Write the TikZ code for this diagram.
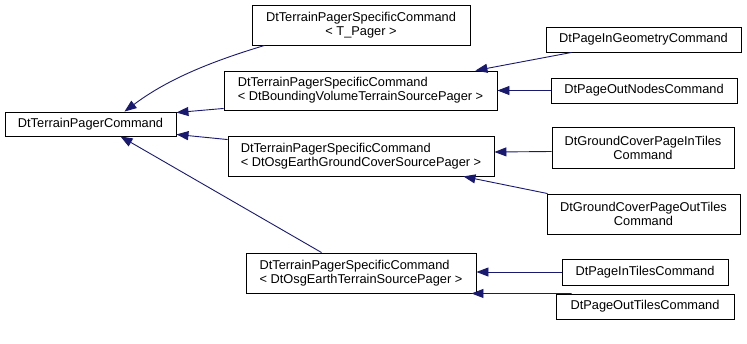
\documentclass[tikz,border=0pt]{standalone}
\usepackage{fontspec}
\setmainfont{Liberation Sans}
\usetikzlibrary{arrows.meta, calc}
\definecolor{darkblue}{RGB}{25, 25, 112}
\tikzset{
    classbox/.style={rectangle, draw=black, line width=0.9pt, fill=white, inner sep=2pt, font=\fontsize{12.8}{14}\selectfont},
    arr/.style={-{Triangle[length=12pt, width=9pt]}, line width=0.9pt, darkblue}
}

\begin{document}
\begin{tikzpicture}[x=1pt, y=-1pt]
    \useasboundingbox (0,0) rectangle (747,343);
    \node[classbox, minimum width=171pt, minimum height=24pt] (root) at (90.5,124) {DtTerrainPagerCommand};
    \node[classbox, align=center, minimum width=218pt, minimum height=40pt] (tp) at (361,25) {DtTerrainPagerSpecificCommand\\\textless{} T\_Pager \textgreater};
    \node[classbox, align=left, minimum width=273pt, minimum height=39pt] (bvt) at (360.5,90.5) {DtTerrainPagerSpecificCommand\\\textless{} DtBoundingVolumeTerrainSourcePager \textgreater};
    \node[classbox, align=left, minimum width=266pt, minimum height=40pt] (gc) at (361,156) {DtTerrainPagerSpecificCommand\\\textless{} DtOsgEarthGroundCoverSourcePager \textgreater};
    \node[classbox, align=left, minimum width=230pt, minimum height=40pt] (oet) at (361,273) {DtTerrainPagerSpecificCommand\\\textless{} DtOsgEarthTerrainSourcePager \textgreater};
    \node[classbox, minimum width=195pt, minimum height=25pt] (pig) at (643.5,39.5) {DtPageInGeometryCommand};
    \node[classbox, minimum width=186pt, minimum height=25pt] (pon) at (644,90.5) {DtPageOutNodesCommand};
    \node[classbox, align=center, minimum width=182pt, minimum height=41pt] (gcin) at (643,147.5) {DtGroundCoverPageInTiles\\Command};
    \node[classbox, align=center, minimum width=193pt, minimum height=40pt] (gcout) at (643.5,214) {DtGroundCoverPageOutTiles\\Command};
    \node[classbox, minimum width=166pt, minimum height=26pt] (pit) at (645,272) {DtPageInTilesCommand};
    \node[classbox, minimum width=178pt, minimum height=25pt] (pot) at (645,306.5) {DtPageOutTilesCommand};
    \draw[arr] ([xshift=13pt]tp.south west) .. controls +(-60,18) and +(40,-30) .. ([xshift=34pt]root.north);
    \draw[arr] ([yshift=2pt]bvt.south west) -- ([yshift=-1pt]root.north east);
    \draw[arr] ([yshift=-4pt]gc.north west) -- ([yshift=2pt]root.south east);
    \draw[arr] ([xshift=76pt]oet.north west) -- ([xshift=30pt]root.south);
    \draw[arr] ([xshift=26pt]pig.south west) -- ([xshift=-22pt]bvt.north east);
    \draw[arr] (pon.west) -- (bvt.east);
    \draw[arr] ([yshift=-4pt]gcin.west) -- ([yshift=4pt]gc.east);
    \draw[arr] ([xshift=1pt]gcout.north west) -- ([xshift=-31pt]gc.south east);
    \draw[arr] (pit.west) -- (oet.east |- pit.west);
    \draw[arr] ([xshift=16pt]pot.north west) -- ([xshift=-5pt]oet.south east);
\end{tikzpicture}
\end{document}
